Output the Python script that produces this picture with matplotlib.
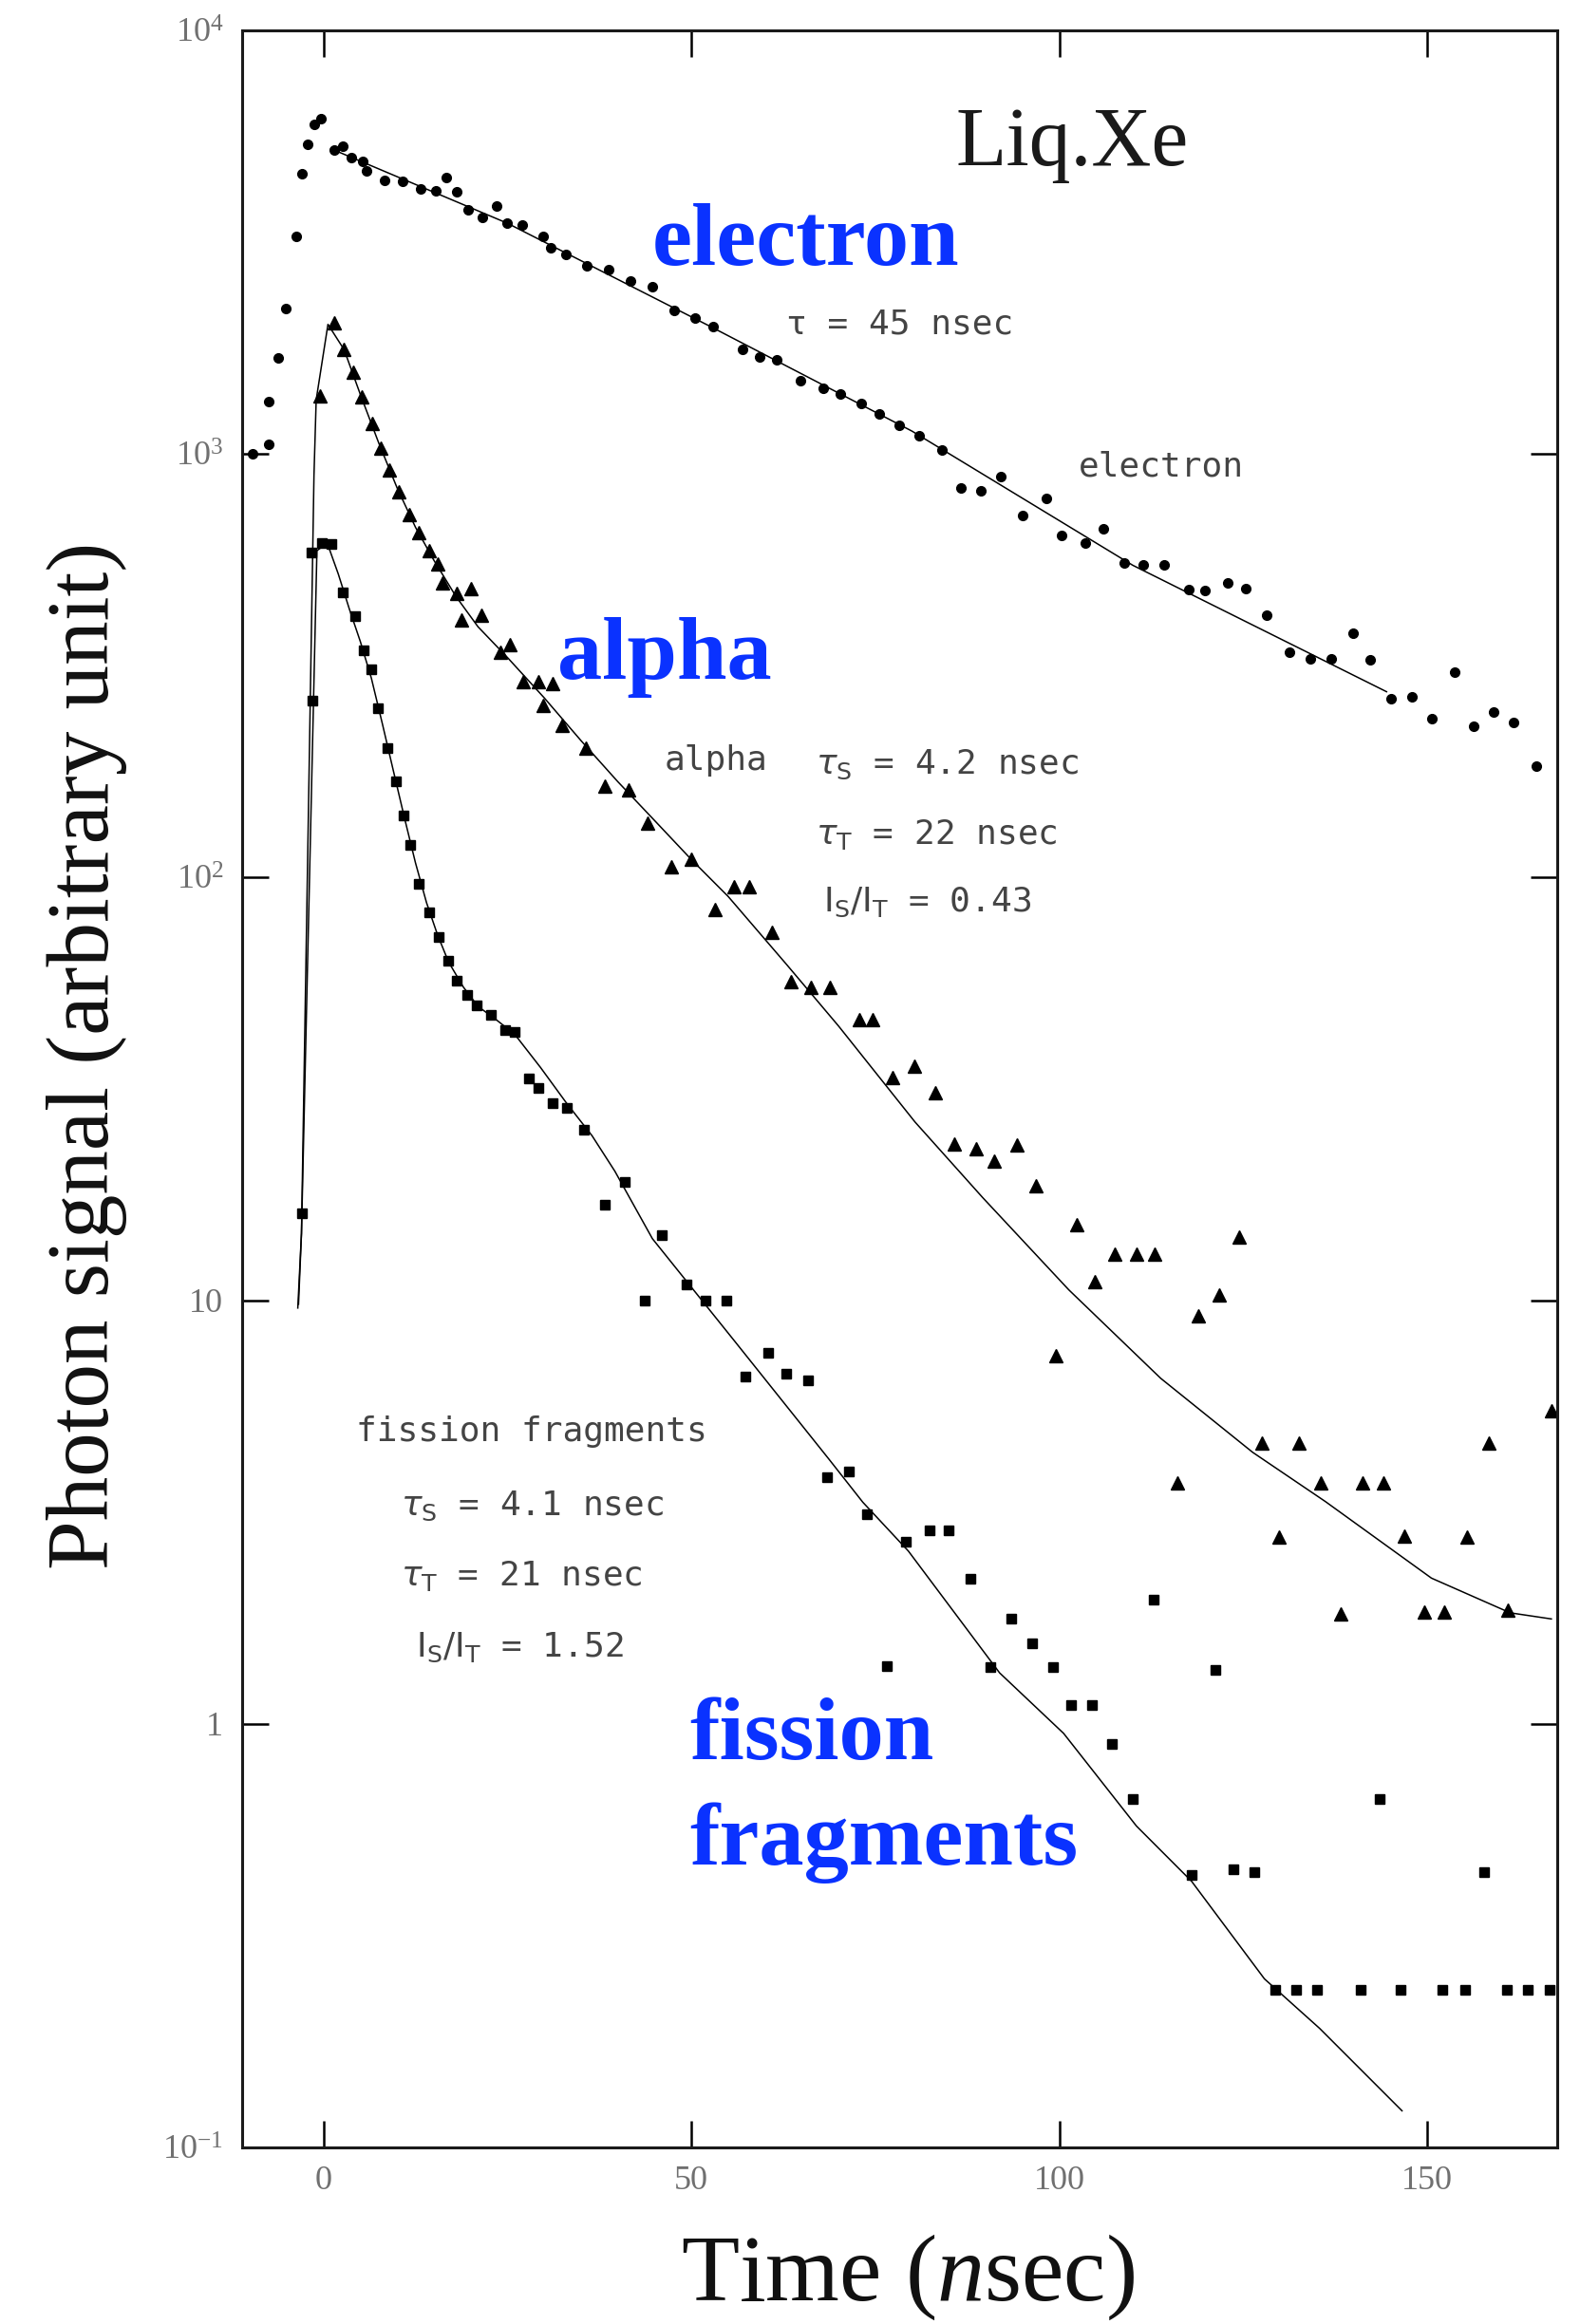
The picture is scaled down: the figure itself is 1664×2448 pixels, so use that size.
import matplotlib
matplotlib.use("Agg")
import matplotlib.pyplot as plt
from matplotlib.ticker import NullLocator, FixedLocator

plt.rcParams["mathtext.fontset"] = "custom"
plt.rcParams["mathtext.rm"] = "Liberation Serif"
plt.rcParams["mathtext.it"] = "Liberation Serif:italic"
plt.rcParams["mathtext.bf"] = "Liberation Serif:bold"

# electron (dots)
t_electron = [-9.7, -7.5, -7.4, -6.2, -5.1, -3.7, -3.0, -2.1, -1.3, -0.3, 1.4, 2.6, 3.8, 5.3, 5.8,
              8.3, 10.7, 13.2, 15.2, 16.7, 18.1, 19.6, 21.6, 23.5, 25.0, 27.0, 29.9, 30.9, 32.9, 35.8,
              38.8, 41.7, 44.7, 47.6, 50.5, 53.0, 56.9, 59.3, 61.6, 64.8, 67.9, 70.3, 73.1, 75.5, 78.2,
              81.0, 84.1, 86.6, 89.4, 92.0, 95.0, 98.2, 100.3, 103.5, 106.0, 108.8, 111.4, 114.2, 117.6,
              119.8, 122.9, 125.4, 128.2, 131.3, 134.2, 137.0, 139.9, 142.3, 145.1, 148.0, 150.7, 153.7,
              156.4, 159.0, 161.8, 164.9]
v_electron = [1000, 1050, 1330, 1680, 2200, 3260, 4590, 5370, 5980, 6170, 5200, 5310, 5000, 4900, 4660,
              4430, 4390, 4210, 4170, 4500, 4160, 3770, 3620, 3840, 3510, 3470, 3260, 3070, 2950, 2780,
              2720, 2560, 2480, 2180, 2090, 2000, 1760, 1690, 1670, 1490, 1430, 1380, 1315, 1240, 1165,
              1105, 1020, 828, 817, 885, 714, 783, 641, 615, 665, 552, 546, 545, 477, 476,
              495, 481, 416, 340, 327, 327, 377, 326, 264, 267, 237, 305, 227, 245, 232, 183]
t_electron_fit = [1.0, 25, 52.5, 80, 110, 144.5]
v_electron_fit = [5250, 3500, 2000, 1130, 545, 274]

# alpha (triangles)
t_alpha = [-0.5, 1.4, 2.8, 4.0, 5.2, 6.6, 7.8, 9.0, 10.2, 11.7, 12.9, 14.3, 15.5, 16.2, 18.1, 18.7,
           20.1, 21.4, 24.0, 25.3, 27.2, 29.2, 29.8, 31.2, 32.4, 35.7, 38.2, 41.5, 44.1, 47.3, 50.0,
           53.2, 55.8, 57.8, 61.0, 63.6, 66.2, 68.8, 72.8, 74.7, 77.4, 80.3, 83.1, 85.8, 88.7, 91.1,
           94.3, 96.8, 99.6, 102.4, 104.8, 107.6, 110.5, 113.0, 116.1, 118.9, 121.8, 124.4, 127.5,
           129.9, 132.6, 135.6, 138.3, 141.3, 144.1, 146.9, 149.6, 152.4, 155.4, 158.4, 161.0, 166.9]
v_alpha = [1370, 2040, 1760, 1560, 1360, 1180, 1030, 914, 811, 719, 652, 590, 550, 494, 468, 405,
           480, 415, 340, 354, 290, 290, 254, 286, 228, 202, 164, 161, 134, 106, 110,
           84, 95, 95, 74, 56.5, 55, 55, 46, 46, 33.6, 35.8, 31, 23.4, 22.8, 21.3,
           23.3, 18.7, 7.4, 15.1, 11.1, 12.9, 12.9, 12.9, 3.7, 9.2, 10.3, 14.1, 4.6,
           2.76, 4.6, 3.7, 1.82, 3.7, 3.7, 2.78, 1.84, 1.84, 2.77, 4.6, 1.86, 5.5]
t_alpha_fit = [-3.5, -3.0, -1.3, -1.0, 0.6, 2.8, 5, 7.5, 10, 12.5, 15, 18, 21, 25, 30, 35, 40, 45,
               50, 55, 63, 70, 80.4, 89.6, 101.3, 113.8, 126.3, 136.2, 150.6, 161.3, 166.9]
v_alpha_fit = [9.6, 14.4, 890, 1340, 2020, 1760, 1380, 1060, 830, 670, 560, 460, 390, 330, 265, 210,
               168, 136, 110, 90, 62, 44.5, 26.4, 17.5, 10.6, 6.55, 4.38, 3.35, 2.21, 1.83, 1.77]

# fission fragments (squares)
t_fission = [-3.0, -1.6, -1.5, -0.2, 1.1, 2.6, 4.3, 5.5, 6.5, 7.4, 8.7, 9.9, 10.9, 11.8, 13.0,
             14.3, 15.6, 16.9, 18.1, 19.5, 20.8, 22.7, 24.7, 26.0, 27.9, 29.2, 31.1, 33.1, 35.4,
             38.2, 40.9, 43.6, 46.0, 49.3, 51.9, 54.8, 57.4, 60.4, 62.9, 65.9, 68.4, 71.4, 73.9,
             76.6, 79.1, 82.4, 84.9, 87.9, 90.6, 93.5, 96.3, 99.1, 101.6, 104.4, 107.2, 110.0,
             112.8, 118.0, 121.2, 123.7, 126.5, 129.4, 132.2, 135.1, 141.0, 143.6, 146.4, 152.1,
             155.2, 157.7, 160.9, 163.7, 166.6]
v_fission = [16.1, 583, 261, 614, 613, 471, 413, 344, 309, 250, 202, 168, 140, 119, 96.6,
             82.4, 72.3, 63.4, 57, 52.6, 49.9, 47.3, 43.6, 43.1, 33.5, 31.8, 29.3, 28.5, 25.3,
             16.8, 19.1, 10.0, 14.3, 10.9, 10.0, 10.0, 6.6, 7.52, 6.7, 6.47, 3.83, 3.94, 3.13,
             1.37, 2.69, 2.87, 2.86, 2.20, 1.36, 1.77, 1.55, 1.36, 1.11, 1.11, 0.896, 0.665,
             1.97, 0.44, 1.34, 0.453, 0.446, 0.235, 0.235, 0.235, 0.235, 0.665, 0.235, 0.235,
             0.235, 0.446, 0.235, 0.235, 0.235]
t_fission_fit = [-3.4, -3.0, -1.15, -0.9, 0.5, 2, 3.5, 5, 6.5, 8, 9.5, 11, 12.5, 14, 15.5, 17, 19,
                 21, 23.5, 26, 29.5, 33, 36.5, 39.6, 44.7, 55.8, 68.7, 73.3, 79.5, 91.9, 100.6,
                 110.5, 118, 127.9, 135.4, 146.6]
v_fission_fit = [9.8, 14.4, 380, 590, 615, 520, 430, 360, 295, 230, 178, 138, 108, 87, 73, 63, 55,
                 49.5, 46, 42.5, 35.5, 29.3, 24.5, 20.2, 14.0, 8.05, 4.22, 3.34, 2.56, 1.32, 0.95,
                 0.574, 0.425, 0.25, 0.191, 0.122]

x_ticks = [0, 50, 100, 150]
y_ticks = [0.1, 1, 10, 100, 1000, 10000]
y_tick_labels = [r"$10^{-1}$", "1", "10", r"$10^{2}$", r"$10^{3}$", r"$10^{4}$"]

fig = plt.figure(figsize=(16.65, 24.48), dpi=100)
ax = fig.add_axes([0.153, 0.076, 0.832, 0.911])
ax.set_yscale("log")
ax.set_xlim(-11.1, 167.7)
ax.set_ylim(0.1, 1e4)

ax.plot(t_electron_fit, v_electron_fit, color="black", lw=1.1)
ax.plot(t_alpha_fit, v_alpha_fit, color="black", lw=1.1)
ax.plot(t_fission_fit, v_fission_fit, color="black", lw=1.1)

ax.plot(t_electron, v_electron, "o", ms=7, color="black", ls="none")
ax.plot(t_alpha, v_alpha, "^", ms=9.5, color="black", ls="none")
ax.plot(t_fission, v_fission, "s", ms=6.5, color="black", ls="none")

ax.xaxis.set_major_locator(FixedLocator(x_ticks))
ax.set_xticklabels([str(x) for x in x_ticks])
ax.yaxis.set_major_locator(FixedLocator(y_ticks))
ax.set_yticklabels(y_tick_labels)
ax.xaxis.set_minor_locator(NullLocator())
ax.yaxis.set_minor_locator(NullLocator())
ax.tick_params(which="major", direction="in", length=20, width=1.8, top=True, right=True,
               labelsize=26, labelcolor="#707070", pad=14)
for lab in ax.get_xticklabels() + ax.get_yticklabels():
    lab.set_fontfamily("Liberation Serif")
for sp in ax.spines.values():
    sp.set_linewidth(2.2)
    sp.set_color("#1a1a1a")

# labels printed in the original figure
ax.text(0.543, 0.946, "Liq.Xe", transform=ax.transAxes, fontsize=63,
        family="Liberation Serif", va="center", color="#1a1a1a")

small = dict(transform=ax.transAxes, fontsize=26, family="DejaVu Sans Mono", color="#444444",
             va="center", math_fontfamily="dejavusans")
ax.text(0.414, 0.861, "τ = 45 nsec", **small)
ax.text(0.636, 0.794, "electron", **small)
ax.text(0.321, 0.655, "alpha", **small)
ax.text(0.436, 0.653, r"$\tau_\mathrm{S}$ = 4.2 nsec", **small)
ax.text(0.436, 0.620, r"$\tau_\mathrm{T}$ = 22 nsec", **small)
ax.text(0.442, 0.588, r"$\mathrm{I_S/I_T}$ = 0.43", **small)
ax.text(0.087, 0.338, "fission fragments", **small)
ax.text(0.121, 0.303, r"$\tau_\mathrm{S}$ = 4.1 nsec", **small)
ax.text(0.121, 0.270, r"$\tau_\mathrm{T}$ = 21 nsec", **small)
ax.text(0.132, 0.236, r"$\mathrm{I_S/I_T}$ = 1.52", **small)

# blue overlay labels
blue = dict(transform=ax.transAxes, fontsize=68, family="Liberation Serif", weight="bold",
            color="#0a32ff", va="baseline")
ax.text(0.312, 0.889, "electron", **blue)
ax.text(0.240, 0.6935, "alpha", **blue)
ax.text(0.3405, 0.1833, "fission", **blue)
ax.text(0.3405, 0.1337, "fragments", **blue)

fig.text(0.055, 0.546, "Photon signal (arbitrary unit)", rotation=90, ha="center", va="center",
         fontsize=67, family="Liberation Serif", color="#111111")
fig.text(0.574, 0.020, r"Time ($\mathit{n}$sec)", ha="center", va="center",
         fontsize=72, family="Liberation Serif", color="#111111")

fig.savefig("out.png", dpi=100)
